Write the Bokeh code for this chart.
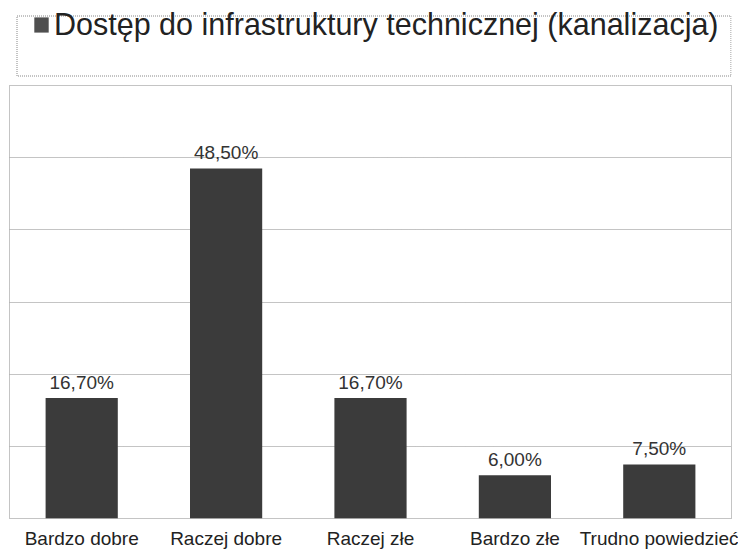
from bokeh.plotting import figure
from bokeh.models import ColumnDataSource, LabelSet, Legend, LegendItem, FixedTicker
from bokeh.layouts import column
from bokeh.core.properties import value
from bokeh.embed import file_html
from bokeh.resources import INLINE

categories = ["Bardzo dobre", "Raczej dobre", "Raczej złe", "Bardzo złe", "Trudno powiedzieć"]
values = [16.7, 48.5, 16.7, 6.0, 7.5]
value_labels = ["16,70%", "48,50%", "16,70%", "6,00%", "7,50%"]
series_name = "Dostęp do infrastruktury technicznej (kanalizacja)"
grid_ticks = [0, 10, 20, 30, 40, 50, 60]

FONT = "Liberation Sans"
GRID = "#888888"
BAR = "#3b3b3b"
SWATCH = "#4f4f4f"

# ---------- legend strip (top) ----------
leg = figure(width=738, height=85, x_range=(9, 731), y_range=(0, 85),
             output_backend="svg", toolbar_location=None,
             min_border_left=0, min_border_right=0, min_border_top=0, min_border_bottom=0)
leg.axis.visible = False
leg.grid.visible = False
leg.outline_line_color = None
# dotted frame around the legend
leg.quad(left=[16.5], right=[730.5], bottom=[9.5], top=[69.5],
         fill_alpha=0, line_color=GRID, line_dash="1 1", line_width=1)
# zero-size proxy bar that only supplies the legend swatch
swatch_src = ColumnDataSource(dict(x=[0], top=[0]))
proxy = leg.vbar(x="x", top="top", width=0, source=swatch_src,
                 fill_color=SWATCH, line_color=None)
legend = Legend(items=[LegendItem(label=series_name, renderers=[proxy])],
                location=(23, 43), orientation="horizontal",
                label_text_font_size="30.5px", label_text_font=FONT,
                label_text_color="#222222",
                glyph_width=18, glyph_height=19, label_standoff=4,
                padding=0, margin=0,
                border_line_color=None, background_fill_alpha=0)
leg.add_layout(legend)

# ---------- main bar chart ----------
src = ColumnDataSource(dict(cat=categories, val=values, lab=value_labels))

p = figure(x_range=categories, y_range=(0, 60), width=738, height=466,
           output_backend="svg", toolbar_location=None,
           min_border_left=9, min_border_right=7, min_border_top=0, min_border_bottom=31)

r = p.vbar(x="cat", top="val", width=0.5, source=src,
           fill_color=BAR, line_color=None)

labels = LabelSet(x="cat", y="val", text="lab", source=src,
                  text_align="center", text_baseline="bottom", y_offset=5,
                  text_font_size="19px", text_font=value(FONT), text_color="#333333")
p.add_layout(labels)

p.yaxis.visible = False
p.xaxis.axis_line_color = None
p.xaxis.major_tick_line_color = None
p.xaxis.minor_tick_line_color = None
p.xaxis.major_tick_out = 0
p.xaxis.major_tick_in = 0
p.xaxis.major_label_text_font_size = "19px"
p.xaxis.major_label_text_font = FONT
p.xaxis.major_label_text_color = "#222222"
p.xaxis.major_label_standoff = 9

p.xgrid.grid_line_color = None
p.ygrid.ticker = FixedTicker(ticks=grid_ticks)
p.ygrid.grid_line_color = GRID
p.ygrid.grid_line_dash = "1 1"
p.ygrid.grid_line_width = 1

p.outline_line_color = GRID
p.outline_line_dash = "1 1"
p.outline_line_width = 1

layout = column(leg, p, spacing=0)
open("out.html", "w").write(file_html(layout, INLINE))
